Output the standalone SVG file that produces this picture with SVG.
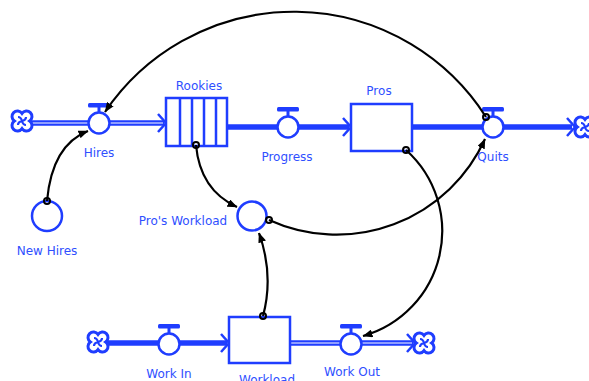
<svg xmlns="http://www.w3.org/2000/svg" width="589" height="381" viewBox="0 0 589 381">
  <style>
    .pipe { stroke: #1f3dff; stroke-width: 5.5; fill: none; }
    .pipe-core { stroke: #ffffff; stroke-width: 1; fill: none; }
    .chev { stroke: #1f3dff; stroke-width: 2.5; fill: none; stroke-linejoin: miter; }
    .shape { stroke: #1f3dff; stroke-width: 2.5; fill: #ffffff; }
    .bar { fill: #1f3dff; }
    .label { font-family: "DejaVu Sans", "Liberation Sans", sans-serif; font-size: 12px; fill: #2f4fff; text-anchor: middle; }
    .link { stroke: #000000; stroke-width: 2.2; fill: none; marker-end: url(#head); }
    .origin { stroke: #000000; stroke-width: 2; fill: none; }
  </style>
  <defs>
    <marker id="head" markerWidth="10" markerHeight="8" refX="9.5" refY="4" orient="auto" markerUnits="userSpaceOnUse">
      <path d="M0,0 L10,4 L0,8 Z" fill="#000000"/>
    </marker>
    <!-- source/sink cloud -->
    <g id="cloud">
      <path d="M0,-7.66 A5.5,5.5 0 1 1 7.66,0 A5.5,5.5 0 1 1 0,7.66 A5.5,5.5 0 1 1 -7.66,0 A5.5,5.5 0 1 1 0,-7.66 Z" stroke="#1f3dff" stroke-width="3" fill="#ffffff"/>
      <path d="M0,0 Q-1,-4 -4,-4 M0,0 Q4,-1 4,-4 M0,0 Q1,4 4,4 M0,0 Q-4,1 -4,4" stroke="#1f3dff" stroke-width="2.2" fill="none"/>
    </g>
    <!-- valve: T handle over a circle -->
    <g id="valve">
      <rect x="-11" y="-20" width="22" height="4.5" rx="1.5" class="bar"/>
      <rect x="-1.5" y="-16" width="3" height="5" class="bar"/>
      <circle r="10.5" class="shape"/>
    </g>
  </defs>

  <!-- flow pipes -->
  <g id="pipes">
    <line x1="30" y1="123" x2="90" y2="123" class="pipe"/>
    <line x1="30" y1="123" x2="90" y2="123" class="pipe-core"/>
    <line x1="108" y1="123" x2="164" y2="123" class="pipe"/>
    <line x1="108" y1="123" x2="163" y2="123" class="pipe-core"/>
    <polyline points="158,114 166,123 158,132" class="chev"/>

    <line x1="227" y1="127" x2="280" y2="127" class="pipe"/>
    <line x1="296" y1="127" x2="349" y2="127" class="pipe"/>
    <polyline points="343,118 351,127 343,136" class="chev"/>
    <line x1="412" y1="127" x2="485" y2="127" class="pipe"/>
    <line x1="502" y1="127" x2="572" y2="127" class="pipe"/>
    <polyline points="567,118 575,127 567,136" class="chev"/>

    <line x1="106" y1="343" x2="160" y2="343" class="pipe"/>
    <line x1="178" y1="343" x2="227" y2="343" class="pipe"/>
    <polyline points="221,334 229,343 221,352" class="chev"/>
    <line x1="290" y1="343" x2="342" y2="343" class="pipe"/>
    <line x1="290" y1="343" x2="342" y2="343" class="pipe-core"/>
    <line x1="360" y1="343" x2="413" y2="343" class="pipe"/>
    <line x1="360" y1="343" x2="412" y2="343" class="pipe-core"/>
    <polyline points="407,334 415,343 407,352" class="chev"/>
  </g>

  <!-- clouds -->
  <g id="cloud-hires-src"><use href="#cloud" x="22" y="121"/></g>
  <g id="cloud-quits-sink"><use href="#cloud" x="585" y="127"/></g>
  <g id="cloud-workin-src"><use href="#cloud" x="98" y="342"/></g>
  <g id="cloud-workout-sink"><use href="#cloud" x="424" y="343"/></g>

  <!-- stocks -->
  <g id="rookies">
    <rect x="166" y="98" width="61" height="48" class="shape"/>
    <path d="M180,98 V146 M192,98 V146 M204,98 V146 M216,98 V146" stroke="#1f3dff" stroke-width="2.5"/>
    <text x="199" y="90" class="label">Rookies</text>
  </g>
  <g id="pros">
    <rect x="351" y="104" width="61" height="47" class="shape"/>
    <text x="379" y="95" class="label">Pros</text>
  </g>
  <g id="workload">
    <rect x="229" y="317" width="61" height="46" class="shape"/>
    <text x="267" y="384" class="label">Workload</text>
  </g>

  <!-- flows -->
  <g id="hires">
    <use href="#valve" x="99" y="123"/>
    <text x="99" y="157" class="label">Hires</text>
  </g>
  <g id="progress">
    <use href="#valve" x="288" y="127"/>
    <text x="287" y="161" class="label">Progress</text>
  </g>
  <g id="quits">
    <use href="#valve" x="493" y="127"/>
    <text x="493" y="161" class="label">Quits</text>
  </g>
  <g id="work-in">
    <use href="#valve" x="169" y="344"/>
    <text x="169" y="378" class="label">Work In</text>
  </g>
  <g id="work-out">
    <use href="#valve" x="351" y="344"/>
    <text x="352" y="376" class="label">Work Out</text>
  </g>

  <!-- auxiliaries -->
  <g id="new-hires">
    <circle cx="47" cy="216" r="15" class="shape"/>
    <text x="47" y="255" class="label">New Hires</text>
  </g>
  <g id="pros-workload">
    <circle cx="252" cy="216" r="14.5" class="shape"/>
    <text x="183" y="225" class="label">Pro's Workload</text>
  </g>

  <!-- connectors -->
  <g id="connectors">
    <path d="M47,201 Q52,145 88,131" class="link"/>
    <circle cx="47" cy="201" r="3" class="origin"/>

    <path d="M486,117 A228,228 0 0 0 105,112" class="link"/>
    <circle cx="486" cy="117" r="3" class="origin"/>

    <path d="M196,145 Q200,190 237,207" class="link"/>
    <circle cx="196" cy="145" r="3" class="origin"/>

    <path d="M269,220 A163,163 0 0 0 485,139" class="link"/>
    <circle cx="269" cy="220" r="3" class="origin"/>

    <path d="M406,150 A109,109 0 0 1 363,336" class="link"/>
    <circle cx="406" cy="150" r="3" class="origin"/>

    <path d="M263,316 Q274,275 259,233" class="link"/>
    <circle cx="263" cy="316" r="3" class="origin"/>
  </g>
</svg>
